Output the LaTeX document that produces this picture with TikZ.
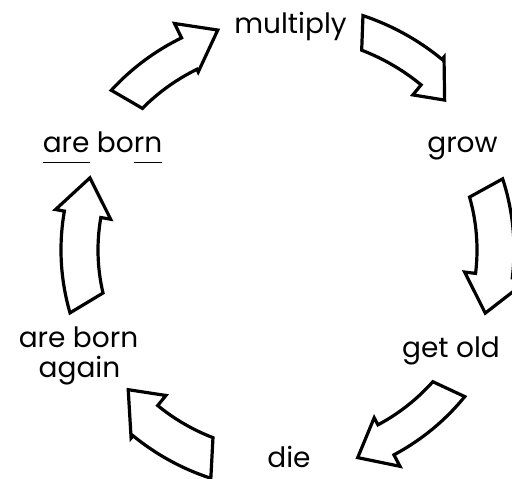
\documentclass[tikz,border=0pt]{standalone}
\usepackage{fontspec}
\setmainfont{Poppins}
\newcommand\cycarrow[9]{%
  \draw[arrowbox] (#1:#3) arc[start angle=#1, end angle=#5, radius=#3] -- (#5:#7) -- (#6:#9) -- (#5:#8) -- (#5:#4) arc[start angle=#5, end angle=#2, radius=#4] -- cycle;}
\newcommand\ulx[1]{\underline{#1\vphantom{g}}}
\begin{document}
\begin{tikzpicture}[x=1pt,y=1pt,
  arrowbox/.style={draw=black, line width=3.2pt, line join=miter, fill=white},
  lbl/.style={anchor=base, inner sep=0pt, font=\fontsize{28}{32}\selectfont}]
\useasboundingbox (0,0) rectangle (512,479);
\fill[white] (0,0) rectangle (512,479);
\clip (0,0) rectangle (512,479);
\begin{scope}[shift={(285,229)}]
  % are born -> multiply
  \cycarrow{137.4}{135.2}{236}{201}{116}{107}{252}{198}{230}
  % multiply -> grow
  \cycarrow{71.6}{69}{247}{214}{50.5}{43.2}{250}{201}{219}
  % grow -> get old
  \cycarrow{18.1}{16}{229}{192}{-7}{-17.5}{245}{181}{210}
  % get old -> die
  \cycarrow{-39.2}{-41.7}{232}{198}{-62}{-70.7}{245}{190}{220}
  % die -> are born again
  \cycarrow{-108}{-111}{240}{201}{-129.3}{-138.3}{243}{188}{210}
  % are born again -> are born
  \cycarrow{-163.7}{-166.7}{224}{187}{-190}{-200.3}{233}{177}{208}
\end{scope}
\node[lbl] (multiply) at (290.5,445) {multiply};
\node[lbl] (grow) at (462.5,326) {grow};
\node[lbl] (getold) at (451,121) {get old};
\node[lbl] (die) at (289,11) {die};
\node[lbl] (again1) at (78.5,131) {are born};
\node[lbl] (again2) at (79.5,101) {again};
\node[lbl] (born) at (102.5,326) {\ulx{are} bo\ulx{rn}};
\end{tikzpicture}
\end{document}
